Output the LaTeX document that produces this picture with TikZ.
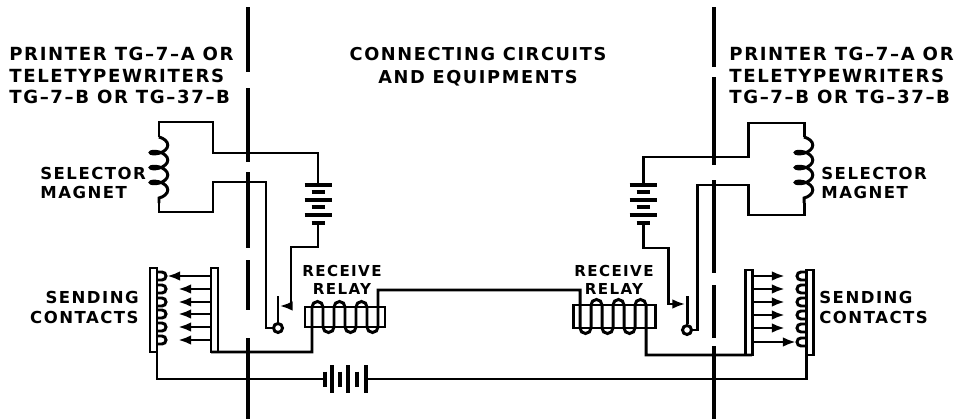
\documentclass[tikz,border=0pt]{standalone}
\usepackage{fontspec}
\newfontfamily\lettering[LetterSpace=9]{DejaVu Sans}
\usetikzlibrary{arrows.meta,decorations.pathmorphing}

\tikzset{
  wire/.style={line width=1.7pt},
  divider/.style={line width=2.5pt},
  plate/.style={line width=2pt},
  hdr/.style={inner sep=0pt,font=\lettering\bfseries\fontsize{10.3}{12.2}\selectfont},
  lbl/.style={inner sep=0pt,font=\lettering\bfseries\fontsize{9.4}{11.2}\selectfont},
  relaylbl/.style={inner sep=0pt,align=center,font=\lettering\bfseries\fontsize{8.6}{10.2}\selectfont},
  magnetcoil/.style={wire,decorate,decoration={coil,aspect=0.5,segment length=8.5pt,amplitude=5pt}}
}

\begin{document}
\begin{tikzpicture}[x=0.02cm,y=-0.02cm,>={Latex[length=7.5pt,width=5.5pt]}]
\useasboundingbox (0,0) rectangle (963,419);

% headings
\node[hdr,align=left,anchor=west] (lefthdr) at (9,75.5) {PRINTER TG–7–A OR\\TELETYPEWRITERS\\TG–7–B OR TG–37–B};
\node[hdr,align=left,anchor=west] (righthdr) at (729,75.5) {PRINTER TG–7–A OR\\TELETYPEWRITERS\\TG–7–B OR TG–37–B};
\node[hdr,align=center,font=\lettering\bfseries\fontsize{10.1}{13}\selectfont] (midhdr) at (478,66.5) {CONNECTING CIRCUITS\\AND EQUIPMENTS};

% labels
\node[lbl,align=left,anchor=west] (lselector) at (40,183) {SELECTOR\\MAGNET};
\node[lbl,align=left,anchor=west] (rselector) at (821,183) {SELECTOR\\MAGNET};
\node[lbl,align=right,anchor=east] (lsending) at (139,307.5) {SENDING\\CONTACTS};
\node[lbl,align=left,anchor=west] (rsending) at (819,307.5) {SENDING\\CONTACTS};
\node[relaylbl] (lrelay) at (342,280) {RECEIVE\\RELAY};
\node[relaylbl] (rrelay) at (614,280) {RECEIVE\\RELAY};

% dividing lines
\foreach \a/\b in {7/72,88/162,172/248,260/310,338/419}
  \draw[divider] (248,\a) -- (248,\b);
\foreach \a/\b in {7/67,77/165,180/273,285/338,346/419}
  \draw[divider] (714,\a) -- (714,\b);

% left printer: selector magnet and local battery
\draw[magnetcoil] (159,137) -- (159,203);
\draw[wire] (159,137) -- (159,122) -- (213,122) -- (213,153) -- (318,153) -- (318,185);
\draw[wire] (159,203) -- (159,212) -- (213,212) -- (213,182) -- (266,182) -- (266,328) -- (273.5,328);
\foreach \y/\w in {185/13.5,192/6.5,200/13.5,207/6.5,215/13.5,223/6.5}
  \draw[plate] (318-\w,\y) -- (318+\w,\y);
\draw[wire] (278,328) circle[radius=4.5];
\draw[wire] (278,296) -- (278,322);
\draw[wire,->] (318,223) -- (318,247) -- (291,247) -- (291,306) -- (279.5,306);

% right printer: selector magnet and local battery
\draw[magnetcoil] (804,137) -- (804,203);
\draw[wire] (804,137) -- (804,123) -- (748,123) -- (748,157) -- (643,157) -- (643,185);
\draw[wire] (804,203) -- (804,215) -- (748,215) -- (748,185) -- (697,185) -- (697,330) -- (691.5,330);
\foreach \y/\w in {185/13.5,192/6.5,200/13.5,207/6.5,215/13.5,223/6.5}
  \draw[plate] (643-\w,\y) -- (643+\w,\y);
\draw[wire] (687,330) circle[radius=4.5];
\draw[wire] (687,296) -- (687,324);
\draw[wire,->] (643,223) -- (643,248) -- (668,248) -- (668,304) -- (685.5,304);

% receive relays and the line between them
\draw[wire] (211,352) -- (312,352) -- (312,307)
  arc[start angle=180,end angle=360,radius=5.5] -- (323,327)
  arc[start angle=180,end angle=0,radius=5.5] -- (334,307)
  arc[start angle=180,end angle=360,radius=5.5] -- (345,327)
  arc[start angle=180,end angle=0,radius=5.5] -- (356,307)
  arc[start angle=180,end angle=360,radius=5.5] -- (367,327)
  arc[start angle=180,end angle=0,radius=5.5] -- (378,307)
  -- (378,290) -- (580,290) -- (580,328)
  arc[start angle=180,end angle=0,radius=5.5] -- (591,305)
  arc[start angle=180,end angle=360,radius=5.5] -- (602,328)
  arc[start angle=180,end angle=0,radius=5.5] -- (613,305)
  arc[start angle=180,end angle=360,radius=5.5] -- (624,328)
  arc[start angle=180,end angle=0,radius=5.5] -- (635,305)
  arc[start angle=180,end angle=360,radius=5.5] -- (646,355) -- (752,355);
\draw[wire] (305,307) rectangle (385,327);
\draw[wire] (573,305) rectangle (655,328);

% left sending contacts
\draw[wire] (150,268) rectangle (157,352);
\draw[wire] (211,268) rectangle (218,352);
\foreach \y in {276,289,302,314,327,340}
  \draw[wire] (157,\y-4) -- (162,\y-4) arc[start angle=270,end angle=450,radius=4] -- (157,\y+4);
\draw[wire,->] (211,276) -- (167,276);
\foreach \y in {289,302,314,327,340}
  \draw[wire,->] (211,\y) -- (178,\y);

% right sending contacts
\draw[wire] (745,270) rectangle (752,355);
\draw[wire] (806,270) rectangle (813,355);
\foreach \y in {276,289,302,315,328,342}
  \draw[wire] (806,\y-4) -- (801,\y-4) arc[start angle=270,end angle=90,radius=4] -- (806,\y+4);
\foreach \y in {276,289,302,315,328}
  \draw[wire,->] (752,\y) -- (785,\y);
\draw[wire,->] (752,342) -- (796,342);

% line battery
\draw[wire] (157,352) -- (157,379) -- (325,379);
\foreach \x/\h in {325/7.5,332/14,340/7.5,348/14,357/7.5,366/14}
  \draw[plate] (\x,379-\h) -- (\x,379+\h);
\draw[wire] (366,379) -- (806,379) -- (806,355);
\end{tikzpicture}
\end{document}
